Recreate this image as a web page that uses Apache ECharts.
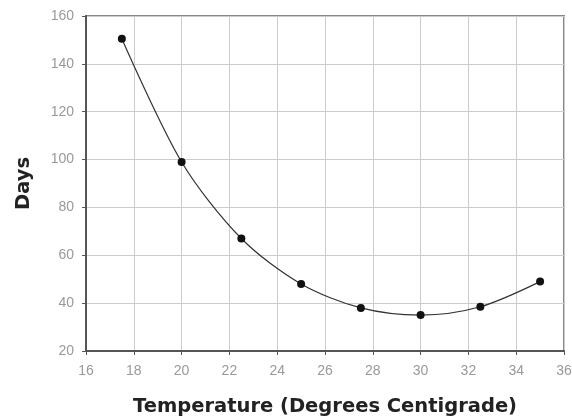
<!DOCTYPE html>
<html><head><meta charset="utf-8">
<script src="https://cdn.jsdelivr.net/npm/echarts@6/dist/echarts.min.js"></script>
<style>html,body{margin:0;padding:0;background:#fff}#c{width:572px;height:417px}</style>
</head><body><div id="c"></div>
<script>
const temperatures = [17.5, 20, 22.5, 25, 27.5, 30, 32.5, 35];
const days = [150.5, 99, 67, 48, 38, 35, 38.5, 49];
const xTitle = 'Temperature (Degrees Centigrade)';
const yTitle = 'Days';

const chart = echarts.init(document.getElementById('c'));
chart.setOption({
  animation: false,
  grid: {left: 86, top: 16, right: 8, bottom: 66, outerBoundsMode: 'none', containLabel: false,
         show: true, borderColor: '#888', borderWidth: 2},
  xAxis: {
    type: 'value', min: 16, max: 36, interval: 2,
    name: xTitle, nameLocation: 'middle', nameGap: 46,
    nameTextStyle: {fontFamily: 'DejaVu Sans', fontWeight: 'bold', fontSize: 19.5, color: '#222'},
    axisLine: {show: true, lineStyle: {color: '#555', width: 2}},
    axisTick: {show: true, length: 4, lineStyle: {color: '#555'}},
    axisLabel: {color: '#999', fontSize: 14, fontFamily: 'Liberation Sans', margin: 13},
    splitLine: {show: true, lineStyle: {color: '#ccc', width: 1}}
  },
  yAxis: {
    type: 'value', min: 20, max: 160, interval: 20,
    name: yTitle, nameLocation: 'middle', nameGap: 52, nameRotate: 90,
    nameTextStyle: {fontFamily: 'DejaVu Sans', fontWeight: 'bold', fontSize: 19.5, color: '#222'},
    axisLine: {show: true, lineStyle: {color: '#555', width: 2}},
    axisTick: {show: true, length: 4, lineStyle: {color: '#555'}},
    axisLabel: {color: '#999', fontSize: 14, fontFamily: 'Liberation Sans', margin: 12},
    splitLine: {show: true, lineStyle: {color: '#ccc', width: 1}}
  },
  series: [{
    type: 'line', smooth: 0.3,
    data: temperatures.map((t, i) => [t, days[i]]),
    symbol: 'circle', symbolSize: 8,
    itemStyle: {color: '#111'},
    lineStyle: {color: '#333', width: 1.2}
  }]
});
</script></body></html>
